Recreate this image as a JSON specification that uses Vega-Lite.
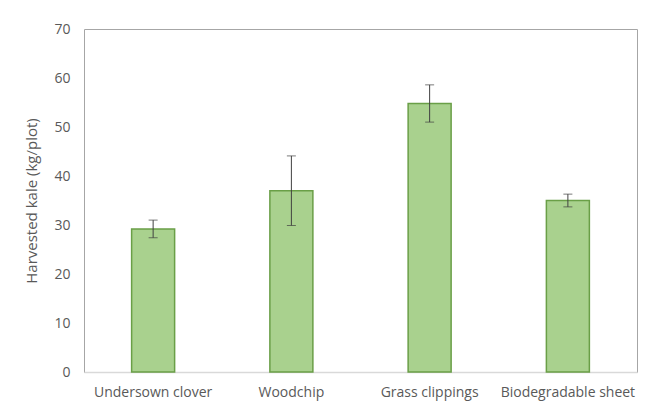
{
  "$schema": "https://vega.github.io/schema/vega-lite/v6.json",
  "autosize": "none",
  "padding": {"left": 84, "top": 29, "right": 8, "bottom": 44},
  "width": 553,
  "height": 343,
  "background": "white",
  "config": {
    "view": {"stroke": "#a6a6a6", "strokeWidth": 1},
    "font": "Open Sans"
  },
  "data": {
    "values": [
      {"treatment": "Undersown clover", "yield": 29.2, "lo": 27.4, "hi": 31.0},
      {"treatment": "Woodchip", "yield": 37.0, "lo": 29.9, "hi": 44.1},
      {"treatment": "Grass clippings", "yield": 54.8, "lo": 51.0, "hi": 58.6},
      {"treatment": "Biodegradable sheet", "yield": 35.0, "lo": 33.7, "hi": 36.3}
    ]
  },
  "encoding": {
    "x": {
      "field": "treatment",
      "type": "nominal",
      "sort": null,
      "scale": {"paddingInner": 0, "paddingOuter": 0},
      "axis": {
        "title": null,
        "labelAngle": 0,
        "labelFontSize": 14,
        "labelColor": "#595959",
        "labelPadding": 13,
        "labelOverlap": false,
        "ticks": false,
        "domainColor": "#d9d9d9",
        "domainWidth": 1.5,
        "grid": false
      }
    }
  },
  "layer": [
    {
      "mark": {"type": "bar", "size": 43, "fill": "#a9d18e", "stroke": "#6a9f47", "strokeWidth": 1.5},
      "encoding": {
        "y": {
          "field": "yield",
          "type": "quantitative",
          "scale": {"domain": [0, 70]},
          "axis": {
            "title": "Harvested kale (kg/plot)",
            "titleFontSize": 15,
            "titleFontWeight": "normal",
            "titleColor": "#595959",
            "titlePadding": 14,
            "labelFontSize": 14,
            "labelColor": "#595959",
            "labelPadding": 14,
            "labelOverlap": false,
            "labelFlush": false,
            "values": [0, 10, 20, 30, 40, 50, 60, 70],
            "ticks": false,
            "domain": false,
            "grid": false
          }
        }
      }
    },
    {
      "mark": {"type": "rule", "color": "#404040", "strokeWidth": 1},
      "encoding": {
        "y": {"field": "lo", "type": "quantitative"},
        "y2": {"field": "hi"}
      }
    },
    {
      "mark": {"type": "tick", "color": "#404040", "size": 9, "thickness": 1},
      "encoding": {"y": {"field": "lo", "type": "quantitative"}}
    },
    {
      "mark": {"type": "tick", "color": "#404040", "size": 9, "thickness": 1},
      "encoding": {"y": {"field": "hi", "type": "quantitative"}}
    }
  ]
}
